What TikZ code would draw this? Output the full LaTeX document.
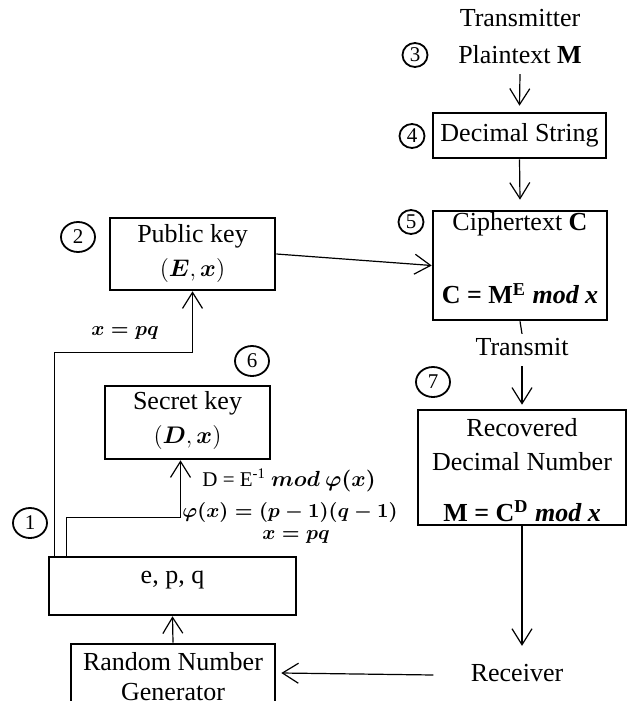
\documentclass[tikz,border=0pt]{standalone}
\usepackage{amsmath}
\usepackage{fontspec}
\setmainfont{Liberation Serif}
\usetikzlibrary{arrows.meta,calc,shapes.geometric}
\begin{document}
\begin{tikzpicture}[x=0.5pt,y=-0.5pt,
 box/.style={draw,line width=1.3pt,inner sep=0pt},
 txt/.style={font=\fontsize{13}{17}\selectfont,align=center,inner sep=0pt},
 num/.style={draw,ellipse,line width=0.9pt,inner sep=0pt,font=\fontsize{10.5}{11}\selectfont},
 bignum/.style={num,minimum width=17pt,minimum height=15pt},
 smallnum/.style={num,minimum width=12.5pt,minimum height=12pt},
 arr/.style={-{Straight Barb[length=8pt,width=10pt]},line width=0.6pt},
 ln/.style={line width=0.6pt},
 frm/.style={font=\fontsize{9.8}{11}\selectfont,inner sep=0pt}]
\useasboundingbox (0,0) rectangle (634,701);

% boxes
\node[box,minimum width=82.5pt,minimum height=36pt] (pub) at (192.5,254) {};
\node[box,minimum width=82.5pt,minimum height=36.5pt] (sec) at (187.5,422.5) {};
\node[box,minimum width=123.5pt,minimum height=29pt] (epq) at (172.5,586) {};
\node[box,minimum width=102pt,minimum height=36pt] (rng) at (173,680) {};
\node[box,minimum width=86.5pt,minimum height=22.5pt] (dec) at (519.5,135.5) {};
\node[box,minimum width=87pt,minimum height=54.5pt] (cip) at (520,265.5) {};
\node[box,minimum width=104pt,minimum height=57.5pt] (rec) at (522,467.5) {};

% texts
\node[txt,font=\fontsize{13}{18.5}\selectfont] (plain) at (520,36.5) {Transmitter\\Plaintext \textbf{M}};
\node[txt] (pubt) at (192.5,253) {Public key\\$(\boldsymbol{E},\boldsymbol{x})$};
\node[txt] (sect) at (187.5,420) {Secret key\\$(\boldsymbol{D},\boldsymbol{x})$};
\node[txt] (epqt) at (172.5,580) {e, p, q};
\node[txt,font=\fontsize{13}{15}\selectfont] (rngt) at (173,677) {Random Number\\Generator};
\node[txt] (dect) at (519.5,135.5) {Decimal String};
\node[txt] (cipt) at (520,258.5) {Ciphertext \textbf{C}\\[19.5pt]\textbf{C = M\textsuperscript{E} \textit{mod x}}};
\node[txt] (rect) at (522,470) {Recovered\\Decimal Number\\[8.5pt]\textbf{M = C\textsuperscript{D} \textit{mod x}}};
\node[txt] (tx) at (522,347) {Transmit};
\node[txt] (recv) at (517,673) {Receiver};

% formulas
\node[frm] (xpq1) at (125,333) {$\boldsymbol{x = pq}$};
\node[frm,font=\fontsize{10.5}{12}\selectfont] (dfm) at (289,480) {D = E\textsuperscript{-1} $\boldsymbol{mod\ \varphi(x)}$};
\node[frm] (phi) at (290,512) {$\boldsymbol{\varphi(x) = (p-1)(q-1)}$};
\node[frm] (xpq2) at (296,537) {$\boldsymbol{x = pq}$};

% numbered circles
\node[bignum] (c1) at (30,523) {1};
\node[bignum] (c2) at (78,237) {2};
\node[smallnum] (c3) at (415,55) {3};
\node[smallnum] (c4) at (412,136) {4};
\node[smallnum] (c5) at (411,222) {5};
\node[bignum] (c6) at (252,361) {6};
\node[bignum] (c7) at (433,382) {7};

% connectors
\draw[arr] ($(plain.south)+(0,10)$) -- ($(dec.north)+(0,-6)$);
\draw[arr] (dec.south) -- ($(cip.north)+(0,-10)$);
\draw[ln] (cip.south) -- ($(tx.north)+(0,-4)$);
\draw[arr] ($(tx.south)+(0,10)$) -- ($(rec.north)+(0,-4)$);
\draw[arr] (pub.east) -- (cip.west);
\draw[arr] ($(epq.north west)+(7,0)$) |- ($(pub.south)+(0,61)$) -- (pub.south);
\draw[arr] ($(epq.north west)+(19,0)$) |- ($(sec.south)+(-7,57)$) -- ($(sec.south)+(-7,0)$);
\draw[arr] (rng.north) -- (epq.south);
\draw[arr] (rec.south) -- ($(rec.south |- recv.north)+(0,-18)$);
\draw[arr] ($(recv.west)+(-37,2)$) -- ($(recv.west -| rng.east)+(5,0)$);
\end{tikzpicture}
\end{document}
